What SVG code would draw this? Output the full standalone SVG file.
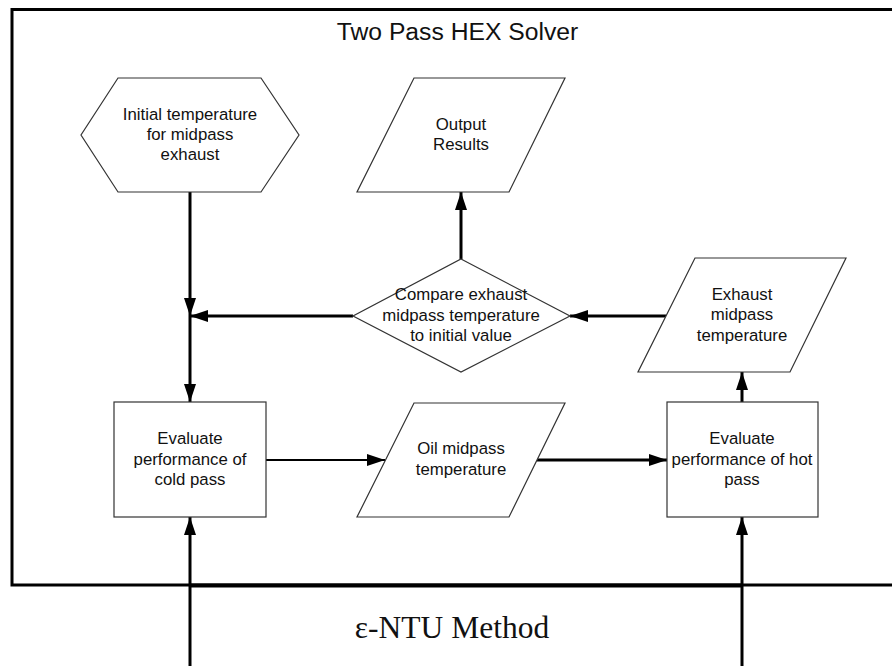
<svg xmlns="http://www.w3.org/2000/svg" width="892" height="666" viewBox="0 0 892 666">
  <defs>
    <marker id="arrow" markerUnits="userSpaceOnUse" markerWidth="18" markerHeight="12" refX="18" refY="6" orient="auto">
      <path d="M0,0 L18,6 L0,12 z" fill="#000"/>
    </marker>
    <style>
      .shape { fill: #fff; stroke: #333; stroke-width: 1.2; }
      .label { font-family: "Liberation Sans", Arial, sans-serif; font-size: 16.8px; fill: #111; text-anchor: middle; }
      .conn { fill: none; stroke: #000; stroke-width: 3; marker-end: url(#arrow); }
      .frame { fill: none; stroke: #000; stroke-width: 3; }
    </style>
  </defs>

  <rect width="892" height="666" fill="#fff"/>

  <!-- solver frame, open on the right -->
  <g id="solver-frame">
    <path class="frame" d="M892,9.5 H12 V585 H892"/>
    <line x1="190" y1="585.5" x2="742" y2="585.5" stroke="#000" stroke-width="4"/>
    <text x="457.5" y="40" font-family="'Liberation Sans', Arial, sans-serif" font-size="24.7" fill="#111" text-anchor="middle">Two Pass HEX Solver</text>
  </g>

  <g id="ntu-label">
    <text x="452" y="638" font-family="'Liberation Serif', 'Times New Roman', serif" font-size="31.5" fill="#111" text-anchor="middle">ε-NTU Method</text>
  </g>

  <!-- connectors -->
  <g id="connectors">
    <line class="conn" x1="190" y1="192" x2="190" y2="316"/>
    <line class="conn" x1="190" y1="316" x2="190" y2="402"/>
    <line class="conn" x1="353" y1="316" x2="190" y2="316"/>
    <line class="conn" x1="666" y1="316" x2="570" y2="316"/>
    <line class="conn" x1="461" y1="259" x2="461" y2="192"/>
    <line class="conn" x1="266" y1="460" x2="385" y2="460" style="stroke-width:2"/>
    <line class="conn" x1="537" y1="460" x2="667" y2="460"/>
    <line class="conn" x1="742" y1="402" x2="742" y2="372"/>
    <line class="conn" x1="190" y1="666" x2="190" y2="517"/>
    <line class="conn" x1="742" y1="666" x2="742" y2="517"/>
  </g>

  <g id="initial-temp">
    <polygon class="shape" points="118,78 261,78 299,135 261,192 118,192 81,135"/>
    <text class="label" x="190" y="120">Initial temperature</text>
    <text class="label" x="190" y="140">for midpass</text>
    <text class="label" x="190" y="160">exhaust</text>
  </g>

  <g id="output-results">
    <polygon class="shape" points="414,78 565,78 509,192 357,192"/>
    <text class="label" x="461" y="130">Output</text>
    <text class="label" x="461" y="150">Results</text>
  </g>

  <g id="compare">
    <polygon class="shape" points="461,259 570,316 461,372 353,316"/>
    <text class="label" x="461" y="300">Compare exhaust</text>
    <text class="label" x="461" y="321">midpass temperature</text>
    <text class="label" x="461" y="341">to initial value</text>
  </g>

  <g id="exhaust-temp">
    <polygon class="shape" points="695,258 846,258 790,372 638,372"/>
    <text class="label" x="742" y="300">Exhaust</text>
    <text class="label" x="742" y="320">midpass</text>
    <text class="label" x="742" y="341">temperature</text>
  </g>

  <g id="cold-pass">
    <rect class="shape" x="114" y="402" width="152" height="115"/>
    <text class="label" x="190" y="444">Evaluate</text>
    <text class="label" x="190" y="465">performance of</text>
    <text class="label" x="190" y="485">cold pass</text>
  </g>

  <g id="oil-temp">
    <polygon class="shape" points="414,403 565,403 509,517 357,517"/>
    <text class="label" x="461" y="454">Oil midpass</text>
    <text class="label" x="461" y="475">temperature</text>
  </g>

  <g id="hot-pass">
    <rect class="shape" x="667" y="402" width="151" height="115"/>
    <text class="label" x="742" y="444">Evaluate</text>
    <text class="label" x="742" y="465">performance of hot</text>
    <text class="label" x="742" y="485">pass</text>
  </g>
</svg>
